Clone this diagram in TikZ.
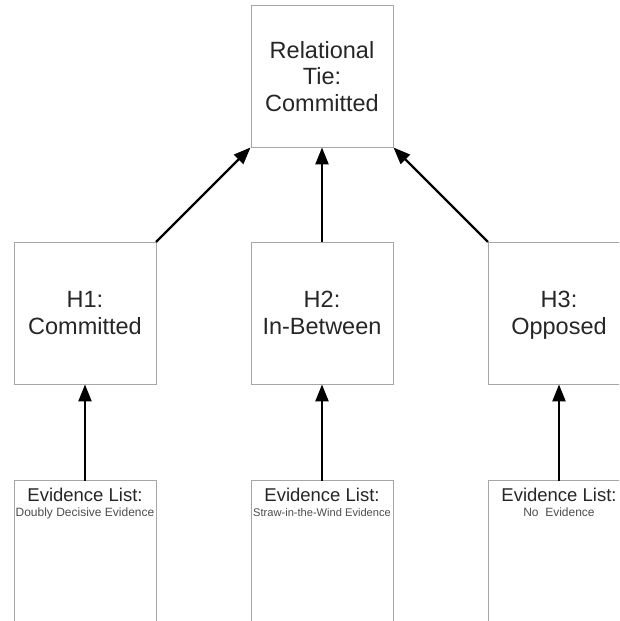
\documentclass[tikz,border=0pt]{standalone}
\usepackage{fontspec}
\setmainfont{Liberation Sans}
\usetikzlibrary{arrows.meta,positioning}

\tikzset{
  box/.style={draw=gray!70, line width=0.9pt, minimum width=142pt, minimum height=142pt, inner sep=0pt, align=center},
  evbox/.style={box, minimum height=170pt, anchor=north},
  bigtxt/.style={font=\fontsize{23.5}{26.5}\selectfont, text depth=0pt, text=black!85},
  evtxt/.style={align=center, inner sep=0pt, text=black!85},
  arr/.style={-{Triangle[length=17pt,width=13pt]}, line width=2.4pt, shorten <=-0.5pt}
}
\newcommand{\evhead}{{\fontsize{18.5}{20}\selectfont Evidence List:}}
\newcommand{\evsmall}[2]{{\fontsize{#1}{13}\selectfont\color{black!70}#2}}

\begin{document}
\begin{tikzpicture}[x=1pt,y=-1pt]
  \useasboundingbox (0,0) rectangle (619,621);
  \clip (0,0) rectangle (619,621);

  % top level
  \node[box, bigtxt] (tie) at (322,76) {Relational\\Tie:\\Committed};

  % hypotheses
  \node[box, bigtxt] (hA) at (85,313) {H1:\\Committed};
  \node[box, bigtxt] (hB) at (322,313) {H2:\\In-Between};
  \node[box, bigtxt] (hC) at (559,313) {H3:\\Opposed};

  % evidence lists
  \node[evbox] (evA) at (85,480) {};
  \node[evbox] (evB) at (322,480) {};
  \node[evbox] (evC) at (559,480) {};
  \node[evtxt, below=7.5pt of evA.north] (evAtxt) {\evhead\\[3pt]\evsmall{12}{Doubly Decisive Evidence}};
  \node[evtxt, below=7.5pt of evB.north] (evBtxt) {\evhead\\[3pt]\evsmall{11.1}{Straw-in-the-Wind Evidence}};
  \node[evtxt, below=7.5pt of evC.north] (evCtxt) {\evhead\\[3pt]\evsmall{12}{No\ \ Evidence}};

  % arrows
  \draw[arr] (hA.north east) -- (tie.south west);
  \draw[arr] (hB.north) -- (tie.south);
  \draw[arr] (hC.north west) -- (tie.south east);
  \draw[arr] (evA.north) -- (hA.south);
  \draw[arr] (evB.north) -- (hB.south);
  \draw[arr] (evC.north) -- (hC.south);
\end{tikzpicture}
\end{document}
